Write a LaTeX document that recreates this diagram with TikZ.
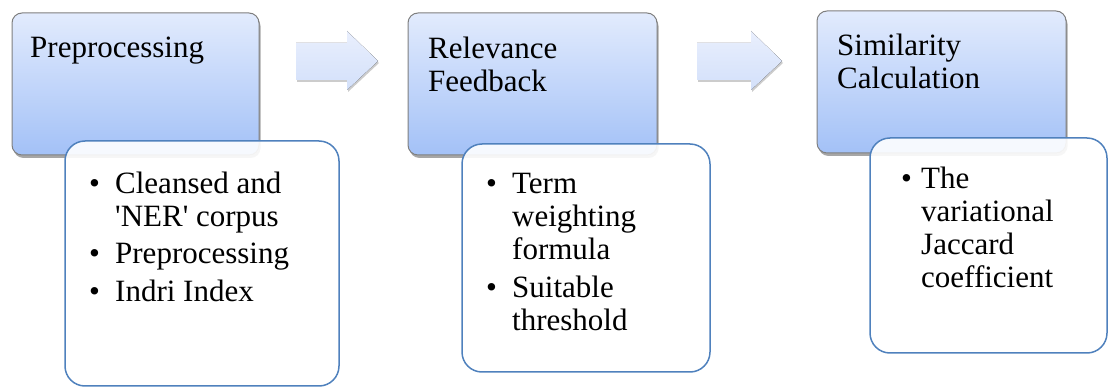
\documentclass[tikz,border=0pt]{standalone}
\usepackage{fontspec}
\setmainfont{Liberation Serif}
\usetikzlibrary{shadows}
\definecolor{boxtop}{HTML}{E2EBFD}
\definecolor{boxbot}{HTML}{A3C1F7}
\definecolor{boxedge}{HTML}{7F7F7F}
\definecolor{listedge}{HTML}{4F81BD}
\definecolor{arrtop}{HTML}{E9EFFD}
\definecolor{arrbot}{HTML}{D3E0FA}
\newcommand\bul[1]{\makebox[#1][l]{\textbullet}}
\begin{document}
\begin{tikzpicture}[x=1pt,y=-1pt,
  stage/.style={rounded corners=10pt, draw=boxedge, line width=1pt,
    top color=boxtop, bottom color=boxbot,
    drop shadow={shadow xshift=1.5pt, shadow yshift=-3pt, opacity=0.35, fill=black}},
  detail/.style={rounded corners=20pt, draw=listedge, line width=1.5pt,
    fill=white, fill opacity=0.9},
  flow/.style={top color=arrtop, bottom color=arrbot, draw=none,
    drop shadow={shadow xshift=1pt, shadow yshift=-2pt, opacity=0.2, fill=black}},
  txt/.style={anchor=north west, inner sep=0pt, align=left,
    font=\fontsize{31}{33}\selectfont}]
\useasboundingbox (0,0) rectangle (1109,387);

% stage boxes
\draw[stage] (12,13) rectangle (259,155);
\draw[stage] (408,13) rectangle (657,155);
\draw[stage] (817,11) rectangle (1066,153);

% block arrows
\fill[flow] (296,43) -- (347,43) -- (347,31) -- (378,61) -- (347,90) -- (347,80) -- (296,80) -- cycle;
\fill[flow] (697,43) -- (751,43) -- (751,31) -- (782,61) -- (751,90) -- (751,80) -- (697,80) -- cycle;

% detail boxes
\draw[detail] (65,141) rectangle (339,386);
\draw[detail] (462,144) rectangle (710,372);
\draw[detail] (870,138) rectangle (1107,353);

% headings
\node[txt] (h1) at (30,34) {\strut Preprocessing};
\node[txt] (h2) at (428,35) {\strut Relevance\\Feedback};
\node[txt] (h3) at (837,32) {\strut Similarity\\Calculation};

% lists
\node[txt] (l1) at (89,170) {\strut\bul{26pt}Cleansed and\\\hspace*{26pt}\textquotesingle NER\textquotesingle{} corpus\\[4pt]\bul{26pt}Preprocessing\\[5pt]\bul{26pt}Indri Index};
\node[txt] (l2) at (486,170) {\strut\bul{26pt}Term\\\hspace*{26pt}weighting\\\hspace*{26pt}formula\\[5pt]\bul{26pt}Suitable\\\hspace*{26pt}threshold};
\node[txt] (l3) at (901,165) {\strut\bul{20pt}The\\\hspace*{20pt}variational\\\hspace*{20pt}Jaccard\\\hspace*{20pt}coefficient};
\end{tikzpicture}
\end{document}
